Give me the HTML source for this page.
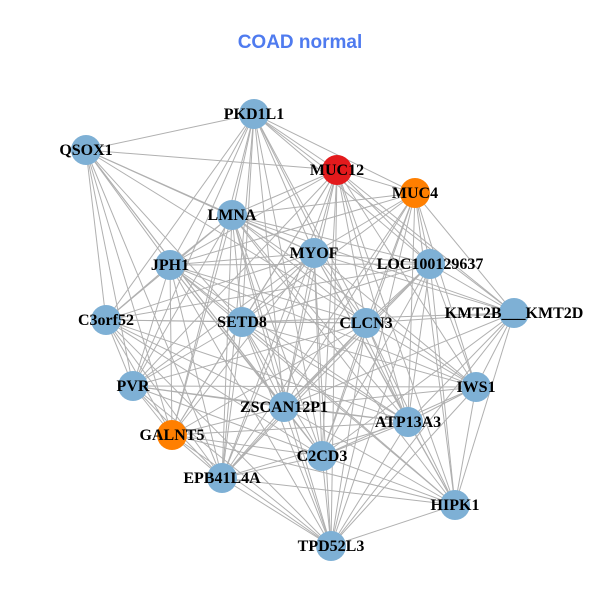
<!DOCTYPE html>
<html><head><meta charset="utf-8"><style>
html,body{margin:0;padding:0;background:#fff;width:600px;height:600px;overflow:hidden}
text{font-family:"Liberation Serif",serif;font-weight:bold;font-size:16px;fill:#000}
</style></head><body>
<svg id="s" width="600" height="600" xmlns="http://www.w3.org/2000/svg">
<text x="300" y="48" text-anchor="middle" style="font-family:'Liberation Sans',sans-serif;font-size:19px;fill:#4f7bef">COAD normal</text>
<g id="e" stroke="#b0b0b0" stroke-width="1"></g>
<g id="n"></g>
</svg>
<script>
var N=[["PKD1L1",254,114,"#7eb0d5"],["QSOX1",86,150,"#7eb0d5"],["MUC12",337,170,"#e31a1c"],["MUC4",415,193,"#ff7f00"],["LMNA",232,215,"#7eb0d5"],["MYOF",314,253,"#7eb0d5"],["JPH1",170,265,"#7eb0d5"],["LOC100129637",430,264,"#7eb0d5"],["C3orf52",106,320,"#7eb0d5"],["SETD8",242,322,"#7eb0d5"],["CLCN3",366,323,"#7eb0d5"],["KMT2B___KMT2D",514,313,"#7eb0d5"],["PVR",133,386,"#7eb0d5"],["IWS1",476,387,"#7eb0d5"],["ZSCAN12P1",284,407,"#7eb0d5"],["ATP13A3",408,422,"#7eb0d5"],["GALNT5",172,435,"#ff7f00"],["C2CD3",322,456,"#7eb0d5"],["EPB41L4A",222,478,"#7eb0d5"],["HIPK1",455,505,"#7eb0d5"],["TPD52L3",331,546,"#7eb0d5"]];
var skip={"1-11":1,"1-13":1,"1-19":1,"1-15":1,"0-19":1,"0-20":1,"8-11":1,"8-13":1,"12-11":1,"1-3":1,"8-19":1,"12-19":1,"16-11":1,"16-13":1,"1-20":1,"3-8":1,"3-12":1,"2-8":1,"11-18":1,"13-18":1,"0-13":1,"1-7":1,"6-11":1,"16-3":1,"16-7":1,"12-3":1,"12-7":1};
var ns="http://www.w3.org/2000/svg",e=document.getElementById("e"),g=document.getElementById("n");
for(var i=0;i<N.length;i++)for(var j=i+1;j<N.length;j++){if(skip[i+"-"+j]||skip[j+"-"+i])continue;var l=document.createElementNS(ns,"line");l.setAttribute("x1",N[i][1]);l.setAttribute("y1",N[i][2]);l.setAttribute("x2",N[j][1]);l.setAttribute("y2",N[j][2]);e.appendChild(l);}
N.forEach(function(d){var c=document.createElementNS(ns,"circle");c.setAttribute("cx",d[1]);c.setAttribute("cy",d[2]);c.setAttribute("r",15);c.setAttribute("fill",d[3]);g.appendChild(c);});
N.forEach(function(d){var t=document.createElementNS(ns,"text");t.setAttribute("x",d[1]);t.setAttribute("y",d[2]+5);t.setAttribute("text-anchor","middle");t.textContent=d[0];g.appendChild(t);});
</script>
</body></html>
